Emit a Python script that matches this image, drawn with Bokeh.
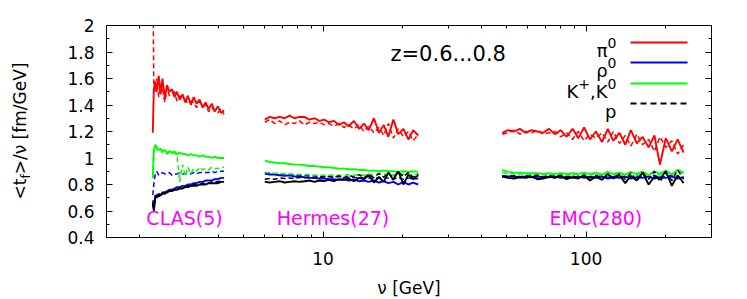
import math
from bokeh.plotting import figure
from bokeh.layouts import row
from bokeh.models import FixedTicker, LogAxis, LinearAxis, Label, CustomJSTickFormatter, Div
from bokeh.embed import file_html
from bokeh.resources import INLINE

nan = float("nan")

# ---------------- data ----------------
clas_nu = [2.25, 2.27, 2.3, 2.33, 2.37, 2.41, 2.45, 2.5, 2.55, 2.6, 2.66, 2.72, 2.78, 2.85, 2.92,
           2.99, 3.06, 3.14, 3.22, 3.3, 3.39, 3.48, 3.57, 3.67, 3.77, 3.87, 3.98, 4.09, 4.2]
hermes_nu = [6.0, 6.27, 6.54, 6.83, 7.14, 7.45, 7.78, 8.13, 8.49, 8.86, 9.26, 9.67, 10.1, 10.5, 11.0, 11.5,
             12.0, 12.5, 13.1, 13.7, 14.3, 14.9, 15.6, 16.3, 17.0, 17.7, 18.5, 19.3, 20.2, 21.1, 22.0, 23.0]
emc_nu = [48, 50.5, 53.2, 56.0, 58.9, 62.0, 65.3, 68.7, 72.3, 76.1, 80.1, 84.3, 88.8, 93.4, 98.3, 103.5,
          109, 115, 121, 127, 134, 141, 148, 156, 164, 173, 182, 191, 201, 212, 223, 235]

# pi0 (red)
pi0_clas = [1.19, 1.52, 1.58, 1.50, 1.62, 1.48, 1.60, 1.45, 1.55, 1.50, 1.52, 1.46, 1.50, 1.44, 1.48,
            1.42, 1.47, 1.40, 1.46, 1.41, 1.44, 1.38, 1.42, 1.37, 1.41, 1.35, 1.39, 1.34, 1.36]
pi0_clas_d = [2.50, 1.55, 1.50, 1.60, 1.46, 1.56, 1.52, 1.42, 1.53, 1.47, 1.49, 1.50, 1.43, 1.47, 1.45,
              1.44, 1.41, 1.43, 1.42, 1.38, 1.43, 1.39, 1.40, 1.35, 1.38, 1.36, 1.34, 1.37, 1.33]
pi0_hermes = [1.29, 1.31, 1.30, 1.31, 1.30, 1.32, 1.30, 1.31, 1.31, 1.29, 1.30, 1.28, 1.29, 1.27, 1.28, 1.25,
              1.27, 1.24, 1.28, 1.22, 1.26, 1.21, 1.30, 1.19, 1.25, 1.16, 1.29, 1.18, 1.22, 1.14, 1.21, 1.17]
pi0_hermes_d = [1.27, 1.29, 1.26, 1.28, 1.25, 1.27, 1.26, 1.28, 1.25, 1.27, 1.26, 1.27, 1.25, 1.26, 1.24, 1.26,
                1.23, 1.25, 1.22, 1.25, 1.20, 1.24, 1.19, 1.23, 1.17, 1.26, 1.15, 1.22, 1.16, 1.20, 1.13, 1.18]
pi0_emc = [1.19, 1.21, 1.20, 1.22, 1.19, 1.21, 1.20, 1.19, 1.22, 1.18, 1.21, 1.16, 1.22, 1.15, 1.23, 1.14,
           1.20, 1.12, 1.22, 1.13, 1.19, 1.10, 1.21, 1.11, 1.16, 1.08, 1.17, 0.95, 1.15, 1.05, 1.14, 1.04]
pi0_emc_d = [1.18, 1.19, 1.21, 1.18, 1.20, 1.19, 1.21, 1.18, 1.19, 1.20, 1.16, 1.19, 1.14, 1.20, 1.13, 1.18,
             1.15, 1.19, 1.12, 1.20, 1.11, 1.17, 1.09, 1.18, 1.10, 1.14, 1.05, 1.16, 1.08, 1.13, 1.03, 1.10]

# rho0 (blue)
rho_clas = [0.68, 0.62, 0.72, 0.70, 0.73, 0.72, 0.74, 0.74, 0.75, 0.76, 0.76, 0.77, 0.78, 0.78, 0.79,
            0.79, 0.80, 0.80, 0.81, 0.81, 0.82, 0.82, 0.83, 0.83, 0.83, 0.84, 0.84, 0.85, 0.85]
rho_clas_d = [0.72, 0.80, 0.88, 0.90, 0.87, 0.88, 0.89, 0.88, 0.88, 0.89, 0.87, 0.88, 0.88, 0.89, 0.88,
              0.88, 0.89, 0.88, 0.89, 0.88, 0.89, 0.89, 0.89, 0.89, 0.90, 0.89, 0.90, 0.90, 0.90]
rho_hermes = [0.88, 0.875, 0.875, 0.87, 0.865, 0.87, 0.86, 0.86, 0.855, 0.85, 0.85, 0.845, 0.845, 0.84, 0.84, 0.835,
              0.84, 0.83, 0.835, 0.825, 0.83, 0.82, 0.83, 0.815, 0.825, 0.81, 0.82, 0.80, 0.82, 0.80, 0.815, 0.80]
rho_hermes_d = [0.89, 0.885, 0.88, 0.88, 0.875, 0.875, 0.87, 0.87, 0.87, 0.865, 0.865, 0.86, 0.86, 0.86, 0.855, 0.86,
                0.855, 0.855, 0.85, 0.855, 0.85, 0.85, 0.845, 0.855, 0.845, 0.85, 0.84, 0.855, 0.84, 0.85, 0.84, 0.845]
rho_emc = [0.86, 0.86, 0.86, 0.855, 0.86, 0.855, 0.86, 0.855, 0.855, 0.86, 0.85, 0.855, 0.85, 0.86, 0.85, 0.855,
           0.85, 0.86, 0.845, 0.855, 0.85, 0.86, 0.845, 0.855, 0.85, 0.86, 0.845, 0.855, 0.85, 0.86, 0.845, 0.855]
rho_emc_d = [0.865, 0.86, 0.865, 0.86, 0.86, 0.865, 0.86, 0.86, 0.865, 0.86, 0.86, 0.865, 0.855, 0.86, 0.865, 0.855,
             0.86, 0.865, 0.855, 0.86, 0.865, 0.855, 0.86, 0.865, 0.855, 0.86, 0.87, 0.85, 0.86, 0.87, 0.85, 0.86]

# K+, K0 (green)
k_clas = [0.85, 1.06, 1.10, 1.08, 1.06, 1.07, 1.05, 1.06, 1.04, 1.05, 1.04, 1.05, 1.03, 1.04, 1.03,
          1.03, 1.02, 1.03, 1.02, 1.02, 1.01, 1.02, 1.01, 1.01, 1.00, 1.01, 1.00, 1.00, 1.00]
k_clas_d = [0.85, 1.05, 1.09, 1.07, 1.05, 1.06, 1.04, 1.05, 1.03, 1.04, 1.03, 1.04, 1.02, 0.82, 0.95,
            0.86, 0.93, 0.88, 0.92, 0.90, 0.93, 0.91, 0.92, 0.91, 0.93, 0.92, 0.92, 0.93, 0.93]
k_hermes = [0.98, 0.97, 0.965, 0.96, 0.96, 0.955, 0.95, 0.95, 0.945, 0.94, 0.94, 0.935, 0.93, 0.93, 0.925, 0.92,
            0.92, 0.915, 0.915, 0.91, 0.91, 0.905, 0.905, 0.90, 0.905, 0.90, 0.90, 0.895, 0.90, 0.895, 0.90, 0.895]
k_hermes_d = [0.89, 0.89, 0.885, 0.885, 0.88, 0.88, 0.88, 0.875, 0.875, 0.875, 0.87, 0.87, 0.87, 0.87, 0.87, 0.87,
              0.87, 0.875, 0.87, 0.875, 0.87, 0.88, 0.87, 0.88, 0.875, 0.88, 0.87, 0.885, 0.875, 0.88, 0.87, 0.88]
k_emc = [0.91, 0.895, 0.89, 0.89, 0.885, 0.885, 0.885, 0.88, 0.885, 0.88, 0.885, 0.88, 0.885, 0.88, 0.89, 0.88,
         0.89, 0.875, 0.895, 0.88, 0.89, 0.875, 0.895, 0.88, 0.90, 0.87, 0.90, 0.88, 0.905, 0.875, 0.91, 0.89]
k_emc_d = [0.89, 0.885, 0.88, 0.88, 0.88, 0.875, 0.88, 0.875, 0.88, 0.875, 0.88, 0.87, 0.88, 0.875, 0.88, 0.87,
           0.885, 0.87, 0.88, 0.875, 0.885, 0.87, 0.89, 0.87, 0.89, 0.875, 0.895, 0.87, 0.90, 0.88, 0.895, 0.885]

# p (black)
p_clas = [0.66, 0.60, 0.70, 0.72, 0.71, 0.72, 0.73, 0.73, 0.74, 0.75, 0.75, 0.76, 0.76, 0.77, 0.77,
          0.78, 0.78, 0.79, 0.79, 0.79, 0.80, 0.80, 0.80, 0.81, 0.81, 0.81, 0.81, 0.82, 0.82]
p_clas_d = [0.65, 0.62, 0.71, 0.72, 0.72, 0.73, 0.74, 0.74, 0.75, 0.75, 0.76, 0.76, 0.77, 0.77, 0.78,
            0.78, 0.79, 0.79, 0.80, 0.80, 0.80, 0.81, 0.81, 0.81, 0.82, 0.82, 0.82, 0.83, 0.82]
p_hermes = [0.82, 0.815, 0.82, 0.825, 0.815, 0.82, 0.825, 0.82, 0.825, 0.83, 0.82, 0.83, 0.825, 0.835, 0.825, 0.84,
            0.835, 0.845, 0.825, 0.85, 0.84, 0.87, 0.815, 0.855, 0.82, 0.89, 0.835, 0.90, 0.80, 0.875, 0.84, 0.87]
p_hermes_d = [0.84, 0.845, 0.84, 0.85, 0.845, 0.85, 0.845, 0.855, 0.85, 0.855, 0.85, 0.86, 0.85, 0.86, 0.855, 0.865,
              0.85, 0.87, 0.855, 0.875, 0.85, 0.88, 0.85, 0.885, 0.855, 0.89, 0.85, 0.895, 0.86, 0.89, 0.855, 0.88]
p_emc = [0.86, 0.85, 0.845, 0.855, 0.85, 0.86, 0.84, 0.845, 0.86, 0.85, 0.865, 0.84, 0.855, 0.845, 0.87, 0.83,
         0.86, 0.835, 0.88, 0.845, 0.87, 0.81, 0.865, 0.83, 0.89, 0.80, 0.86, 0.84, 0.90, 0.79, 0.87, 0.81]
p_emc_d = [0.865, 0.86, 0.865, 0.855, 0.865, 0.86, 0.87, 0.855, 0.865, 0.86, 0.87, 0.855, 0.865, 0.85, 0.87, 0.855,
           0.87, 0.845, 0.875, 0.85, 0.88, 0.84, 0.885, 0.83, 0.89, 0.84, 0.90, 0.82, 0.89, 0.83, 0.91, 0.84]

x_ticks = [10, 100]
x_minor = [2, 3, 4, 5, 6, 7, 8, 9, 20, 30, 40, 50, 60, 70, 80, 90, 200, 300]
y_ticks = [0.4, 0.6, 0.8, 1.0, 1.2, 1.4, 1.6, 1.8, 2.0]
y_minor = [0.5, 0.7, 0.9, 1.1, 1.3, 1.5, 1.7, 1.9]

experiments = ["CLAS(5)", "Hermes(27)", "EMC(280)"]
exp_nu = [2.97, 10.9, 109.0]
exp_y = 0.545

# ---------------- layout ----------------
FONT = "DejaVu Sans"
X0, X1 = 1.5, 300.0
Y0, Y1 = 0.4, 2.0
FW, FH = 605, 212
DIVW = 40


def nu_at(px):
    return 10 ** (math.log10(X0) + px / FW * math.log10(X1 / X0))


def val_at(py):
    return Y1 - py / FH * (Y1 - Y0)


p = figure(x_axis_type="log", x_range=(X0, X1), y_range=(Y0, Y1),
           frame_width=FW, frame_height=FH,
           min_border_left=106 - DIVW, min_border_right=36, min_border_top=25, min_border_bottom=62,
           output_backend="svg", toolbar_location=None, margin=0)
p.xgrid.visible = False
p.ygrid.visible = False
p.outline_line_color = "black"
p.outline_line_alpha = 1.0
p.background_fill_color = "white"
p.border_fill_color = "white"

xt = FixedTicker(ticks=x_ticks, minor_ticks=x_minor)
yt = FixedTicker(ticks=y_ticks, minor_ticks=y_minor)
fmt_y = CustomJSTickFormatter(code="return (Math.round(tick*10)/10).toString();")
fmt_x = CustomJSTickFormatter(code="return Math.round(tick).toString();")
fmt_none = CustomJSTickFormatter(code="return '';")


def style(ax):
    ax.axis_line_color = "black"
    ax.major_tick_line_color = "black"
    ax.minor_tick_line_color = "black"
    ax.major_tick_in = 6
    ax.major_tick_out = 0
    ax.minor_tick_in = 3
    ax.minor_tick_out = 0
    ax.major_label_text_font = FONT
    ax.major_label_text_font_size = "17px"
    ax.major_label_text_color = "black"


xa = p.xaxis[0]
xa.ticker = xt
xa.formatter = fmt_x
style(xa)
xa.major_label_standoff = 14
xa.axis_label = "ν [GeV]"
xa.axis_label_text_font = FONT
xa.axis_label_text_font_size = "17px"
xa.axis_label_text_font_style = "normal"
xa.axis_label_text_color = "black"
xa.axis_label_standoff = 10

ya = p.yaxis[0]
ya.ticker = yt
ya.formatter = fmt_y
style(ya)
ya.major_label_standoff = 12

top = LogAxis(ticker=FixedTicker(ticks=x_ticks, minor_ticks=x_minor), formatter=fmt_none)
style(top)
top.major_label_standoff = 0
p.add_layout(top, "above")
right = LinearAxis(ticker=FixedTicker(ticks=y_ticks, minor_ticks=y_minor), formatter=fmt_none)
style(right)
right.major_label_standoff = 0
p.add_layout(right, "right")


def joined(a, b, c):
    return a + [nan] + b + [nan] + c


nu_all = joined(clas_nu, hermes_nu, emc_nu)
series = [
    ("#ff0000", pi0_clas, pi0_hermes, pi0_emc, pi0_clas_d, pi0_hermes_d, pi0_emc_d),
    ("#0000ff", rho_clas, rho_hermes, rho_emc, rho_clas_d, rho_hermes_d, rho_emc_d),
    ("#00ff00", k_clas, k_hermes, k_emc, k_clas_d, k_hermes_d, k_emc_d),
    ("#000000", p_clas, p_hermes, p_emc, p_clas_d, p_hermes_d, p_emc_d),
]
for col, a, b, c, ad, bd, cd in series:
    p.line(nu_all, joined(ad, bd, cd), line_color=col, line_width=1.5, line_dash="5 3")
    p.line(nu_all, joined(a, b, c), line_color=col, line_width=1.9)

# experiment labels
for name, nx in zip(experiments, exp_nu):
    p.add_layout(Label(x=nx, y=exp_y, text=name, text_font=FONT, text_font_size="19px",
                       text_color="#ff00ff", text_align="center", text_baseline="middle"))

# z label
p.add_layout(Label(x=nu_at(284), y=val_at(28), text="z=0.6...0.8", text_font=FONT,
                   text_font_size="21px", text_color="black", text_align="left", text_baseline="middle"))

# legend (label on the left, sample on the right)
rows = [17, 37, 58, 78]
lx0, lx1 = nu_at(524), nu_at(581)
cols = ["#ff0000", "#0000ff", "#00ff00"]
p.segment(x0=[lx0] * 3, x1=[lx1] * 3, y0=[val_at(r) for r in rows[:3]], y1=[val_at(r) for r in rows[:3]],
          line_color=cols, line_width=2)
p.segment(x0=[lx0], x1=[lx1], y0=[val_at(rows[3])], y1=[val_at(rows[3])],
          line_color="black", line_width=2, line_dash="6 4")

TR = 510
MAIN, SUP = 18, 14


def piece(txt, right_px, row_y, size, raise_px):
    p.add_layout(Label(x=nu_at(right_px), y=val_at(row_y + 8 - raise_px), text=txt, text_font=FONT,
                       text_font_size=f"{size}px", text_color="black", text_align="right",
                       text_baseline="alphabetic"))


w0 = 0.636 * SUP
piece("0", TR, rows[0], SUP, 8)
piece("π", TR - w0, rows[0], MAIN, 0)
piece("0", TR, rows[1], SUP, 8)
piece("ρ", TR - w0, rows[1], MAIN, 0)
piece("0", TR, rows[2], SUP, 8)
r1 = TR - w0
piece("K", r1, rows[2], MAIN, 0)
r2 = r1 - 0.656 * MAIN
piece(",", r2, rows[2], MAIN, 0)
r3 = r2 - 0.318 * MAIN
piece("+", r3, rows[2], SUP, 8)
r4 = r3 - 0.838 * SUP
piece("K", r4, rows[2], MAIN, 0)
piece("p", TR, rows[3], MAIN, 0)

# y axis label as rotated HTML text: <t_f>/ν [fm/GeV]
ylabel_html = (
    '<div style="position:absolute; left:22px; top:131px; transform:translate(-50%,-50%) rotate(-90deg);'
    ' white-space:nowrap; font-family:\'DejaVu Sans\'; font-size:17px; color:black; line-height:1;">'
    '&lt;t<sub style="font-size:12px; vertical-align:-4px;">f</sub>&gt;/ν [fm/GeV]</div>'
)
div = Div(text=ylabel_html, width=DIVW, height=299, margin=0,
          styles={"position": "relative", "overflow": "visible"})

layout = row(div, p, spacing=0)
open("out.html", "w").write(file_html(layout, INLINE))
